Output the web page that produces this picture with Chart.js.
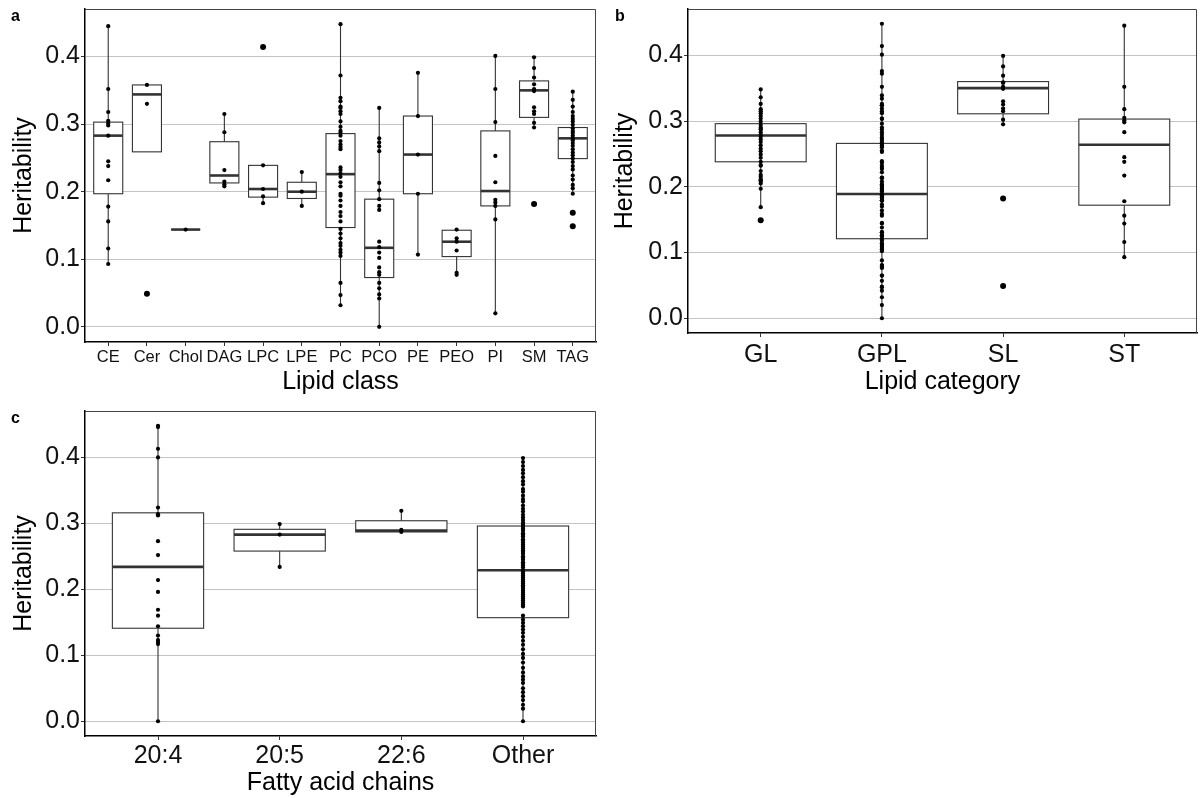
<!DOCTYPE html>
<html>
<head>
<meta charset="utf-8">
<script src="https://cdn.jsdelivr.net/npm/chart.js@4.4.0/dist/chart.umd.min.js"></script>
<style>
  body { margin: 0; background: #fff; }
  #wrap { position: relative; width: 1201px; height: 798px; font-family: "Liberation Sans", Arial, sans-serif; }
  canvas { position: absolute; }
  .tag { position: absolute; font-weight: bold; font-size: 16px; line-height: 16px; color: #000; }
</style>
</head>
<body>
<div id="wrap">
  <canvas id="chartA" width="600" height="400" style="left:0;top:0"></canvas>
  <canvas id="chartB" width="601" height="400" style="left:600px;top:0"></canvas>
  <canvas id="chartC" width="600" height="398" style="left:0;top:400px"></canvas>
  <div class="tag" style="left:11px;top:8px">a</div>
  <div class="tag" style="left:615px;top:8px">b</div>
  <div class="tag" style="left:11px;top:410px">c</div>
</div>
<script>
// y axis shared by all three panels
const yMin = -0.0224;
const yMax = 0.4704;
const yTicks = [0, 0.1, 0.2, 0.3, 0.4];
const yTickLabels = ["0.0", "0.1", "0.2", "0.3", "0.4"];

// panel a: lipid class
const classCats = ["CE", "Cer", "Chol", "DAG", "LPC", "LPE", "PC", "PCO", "PE", "PEO", "PI", "SM", "TAG"];
const classPoints = [
    [0.445, 0.352, 0.318, 0.305, 0.301, 0.298, 0.283, 0.245, 0.238, 0.217, 0.178, 0.156, 0.116, 0.093],
    [0.358, 0.330, 0.049],
    [0.144],
    [0.315, 0.288, 0.232, 0.215, 0.211, 0.208],
    [0.414, 0.239, 0.204, 0.193, 0.183],
    [0.229, 0.200, 0.179],
    [0.448, 0.372, 0.339, 0.334, 0.326, 0.324, 0.319, 0.315, 0.304, 0.296, 0.290, 0.287, 0.283, 0.275,
     0.270, 0.266, 0.263, 0.236, 0.232, 0.227, 0.222, 0.214, 0.208, 0.197, 0.194, 0.187, 0.179, 0.170,
     0.164, 0.156, 0.145, 0.138, 0.131, 0.124, 0.120, 0.114, 0.110, 0.105, 0.065, 0.047, 0.032],
    [0.324, 0.279, 0.273, 0.267, 0.260, 0.213, 0.202, 0.189, 0.179, 0.173, 0.126, 0.118, 0.110, 0.102,
     0.088, 0.081, 0.077, 0.065, 0.057, 0.048, 0.042, 0.000],
    [0.376, 0.312, 0.255, 0.197, 0.107],
    [0.144, 0.131, 0.126, 0.113, 0.080, 0.077],
    [0.401, 0.352, 0.303, 0.253, 0.214, 0.188, 0.184, 0.179, 0.159, 0.020],
    [0.399, 0.383, 0.369, 0.359, 0.352, 0.349, 0.325, 0.319, 0.315, 0.302, 0.295, 0.182],
    [0.348, 0.336, 0.326, 0.318, 0.312, 0.308, 0.304, 0.299, 0.294, 0.290, 0.287, 0.283, 0.279, 0.276,
     0.272, 0.268, 0.263, 0.258, 0.254, 0.249, 0.244, 0.238, 0.233, 0.224, 0.218, 0.210, 0.205, 0.197,
     0.169, 0.149]
];
const classOutliers = [[], [0.049], [], [], [0.414], [], [], [], [], [], [], [0.182], [0.169, 0.149]];
const classLo  = [0.093, 0.259, 0.144, 0.208, 0.183, 0.179, 0.032, 0.000, 0.107, 0.077, 0.020, 0.295, 0.197];
const classQ1  = [0.197, 0.259, 0.144, 0.213, 0.192, 0.190, 0.147, 0.073, 0.197, 0.104, 0.179, 0.310, 0.249];
const classMed = [0.283, 0.344, 0.144, 0.224, 0.204, 0.200, 0.226, 0.117, 0.255, 0.126, 0.201, 0.350, 0.279];
const classQ3  = [0.303, 0.358, 0.144, 0.274, 0.239, 0.214, 0.286, 0.189, 0.312, 0.143, 0.290, 0.364, 0.295];
const classHi  = [0.445, 0.358, 0.144, 0.315, 0.239, 0.229, 0.448, 0.324, 0.376, 0.144, 0.401, 0.399, 0.348];

// panel b: lipid category, pooled from the classes above
const catCats = ["GL", "GPL", "SL", "ST"];
const catMembers = [["DAG", "TAG"], ["LPC", "LPE", "PC", "PCO", "PE", "PEO", "PI"], ["Cer", "SM"], ["CE", "Chol"]];
const catOutliers = [[0.149], [], [0.182, 0.049], []];
const catLo  = [0.169, 0.000, 0.297, 0.094];
const catQ1  = [0.238, 0.121, 0.311, 0.172];
const catMed = [0.278, 0.189, 0.350, 0.264];
const catQ3  = [0.296, 0.266, 0.360, 0.303];
const catHi  = [0.347, 0.448, 0.400, 0.445];

// panel c: fatty acid chains
const chainCats = ["20:4", "20:5", "22:6", "Other"];
const chainPoints = [
    [0.448, 0.446, 0.413, 0.400, 0.324, 0.314, 0.312, 0.273, 0.252, 0.214, 0.196, 0.169, 0.160, 0.144,
     0.130, 0.123, 0.120, 0.117, 0.000],
    [0.299, 0.283, 0.234],
    [0.319, 0.290, 0.287],
    [0.399, 0.393, 0.387, 0.381, 0.376, 0.370, 0.364, 0.359, 0.352, 0.348, 0.342, 0.337, 0.333, 0.327,
     0.322, 0.318, 0.313, 0.309, 0.305, 0.301, 0.298, 0.295, 0.292, 0.289, 0.285, 0.283, 0.280, 0.276,
     0.274, 0.271, 0.268, 0.265, 0.262, 0.259, 0.257, 0.254, 0.250, 0.248, 0.245, 0.241, 0.239, 0.236,
     0.233, 0.229, 0.227, 0.224, 0.221, 0.218, 0.215, 0.212, 0.209, 0.206, 0.204, 0.201, 0.198, 0.195,
     0.192, 0.189, 0.186, 0.183, 0.180, 0.177, 0.174, 0.160, 0.154, 0.149, 0.144, 0.139, 0.134, 0.128,
     0.122, 0.116, 0.109, 0.102, 0.096, 0.089, 0.081, 0.074, 0.068, 0.063, 0.058, 0.050, 0.044, 0.038,
     0.032, 0.025, 0.019, 0.000]
];
const chainOutliers = [[], [], [], []];
const chainLo  = [0.000, 0.234, 0.287, 0.000];
const chainQ1  = [0.141, 0.258, 0.287, 0.157];
const chainMed = [0.234, 0.283, 0.289, 0.229];
const chainQ3  = [0.316, 0.291, 0.304, 0.296];
const chainHi  = [0.448, 0.299, 0.319, 0.399];

Chart.defaults.font.family = '"Liberation Sans", Arial, sans-serif';
Chart.defaults.color = "#111";

// boxes and whiskers, drawn under the points
const boxPlugin = {
    id: "boxes",
    beforeDatasetsDraw(chart, args, opts) {
        const {ctx, scales: {x, y}} = chart;
        ctx.save();
        ctx.strokeStyle = "#333";
        opts.med.forEach((m, i) => {
            const cx = x.getPixelForValue(i);
            const x0 = x.getPixelForValue(i - 0.375);
            const x1 = x.getPixelForValue(i + 0.375);
            const yLo = y.getPixelForValue(opts.lo[i]);
            const yQ1 = y.getPixelForValue(opts.q1[i]);
            const yQ3 = y.getPixelForValue(opts.q3[i]);
            const yHi = y.getPixelForValue(opts.hi[i]);
            const yMed = y.getPixelForValue(m);
            ctx.lineWidth = 1.1;
            ctx.beginPath();
            ctx.moveTo(cx, yHi); ctx.lineTo(cx, yQ3);
            ctx.moveTo(cx, yQ1); ctx.lineTo(cx, yLo);
            ctx.stroke();
            ctx.fillStyle = "#fff";
            ctx.fillRect(x0, yQ3, x1 - x0, yQ1 - yQ3);
            ctx.strokeRect(x0, yQ3, x1 - x0, yQ1 - yQ3);
            ctx.lineWidth = 2.6;
            ctx.beginPath();
            ctx.moveTo(x0, yMed); ctx.lineTo(x1, yMed);
            ctx.stroke();
        });
        ctx.restore();
    },
    afterDraw(chart) {
        const {ctx, chartArea: a} = chart;
        ctx.save();
        ctx.strokeStyle = "#444";
        ctx.lineWidth = 1;
        ctx.beginPath();
        ctx.moveTo(a.left, a.top + 0.5); ctx.lineTo(a.right - 0.5, a.top + 0.5);
        ctx.lineTo(a.right - 0.5, a.bottom);
        ctx.stroke();
        ctx.restore();
    }
};

function makePanel(id, cats, points, outliers, stats, cfg) {
    const pts = [];
    points.forEach((list, i) => list.forEach(v => pts.push({x: i, y: v})));
    const outs = [];
    outliers.forEach((list, i) => list.forEach(v => outs.push({x: i, y: v})));
    return new Chart(document.getElementById(id), {
        type: "scatter",
        data: {
            datasets: [
                { data: pts, pointRadius: 2.1, backgroundColor: "#000", borderWidth: 0, order: 0 },
                { data: outs, pointRadius: 3, backgroundColor: "#000", borderWidth: 0, order: 1 }
            ]
        },
        options: {
            responsive: false,
            animation: false,
            events: [],
            layout: { padding: { top: cfg.top, right: cfg.right, left: 0, bottom: 0 } },
            plugins: {
                legend: { display: false },
                tooltip: { enabled: false },
                boxes: stats
            },
            scales: {
                x: {
                    type: "linear",
                    min: -0.6,
                    max: cats.length - 0.4,
                    afterBuildTicks: s => { s.ticks = cats.map((c, i) => ({value: i})); },
                    afterFit: s => { s.height = cfg.xHeight; s.paddingLeft = 0; s.paddingRight = 0; },
                    ticks: {
                        autoSkip: false, maxRotation: 0, padding: cfg.xPad,
                        font: { size: cfg.xFont }, color: "#111",
                        callback: v => cats[Math.round(v)]
                    },
                    grid: { drawOnChartArea: false, tickLength: 4, tickColor: "#333" },
                    border: { color: "#000", width: 1.5 },
                    title: { display: true, text: cfg.xTitle, font: { size: 25 }, color: "#000", padding: { bottom: cfg.titlePad } }
                },
                y: {
                    type: "linear",
                    min: yMin,
                    max: yMax,
                    afterBuildTicks: s => { s.ticks = yTicks.map(v => ({value: v})); },
                    afterFit: s => { s.width = cfg.yWidth; s.paddingTop = 0; s.paddingBottom = 0; },
                    ticks: {
                        padding: 1, font: { size: 25 }, color: "#111",
                        callback: (v, i) => yTickLabels[i]
                    },
                    grid: { color: "#c4c4c4", lineWidth: 1, tickLength: 4, tickColor: "#333" },
                    border: { color: "#000", width: 1.5 },
                    title: { display: true, text: "Heritability", font: { size: 25 }, color: "#000", padding: { top: cfg.yTitlePad } }
                }
            }
        },
        plugins: [boxPlugin]
    });
}

makePanel("chartA", classCats, classPoints, classOutliers,
    { lo: classLo, q1: classQ1, med: classMed, q3: classQ3, hi: classHi },
    { top: 9, right: 1, xHeight: 58, yWidth: 85, xFont: 16.5, xPad: 2, xTitle: "Lipid class", titlePad: 3, yTitlePad: 9 });

const catPoints = catMembers.map(m => [].concat(...m.map(c => classPoints[classCats.indexOf(c)])));
makePanel("chartB", catCats, catPoints, catOutliers,
    { lo: catLo, q1: catQ1, med: catMed, q3: catQ3, hi: catHi },
    { top: 9, right: 1, xHeight: 67, yWidth: 88, xFont: 25, xPad: 3, xTitle: "Lipid category", titlePad: 3, yTitlePad: 10 });

makePanel("chartC", chainCats, chainPoints, chainOutliers,
    { lo: chainLo, q1: chainQ1, med: chainMed, q3: chainQ3, hi: chainHi },
    { top: 11, right: 1, xHeight: 62, yWidth: 85, xFont: 25, xPad: 1, xTitle: "Fatty acid chains", titlePad: 0, yTitlePad: 9 });
</script>
</body>
</html>
